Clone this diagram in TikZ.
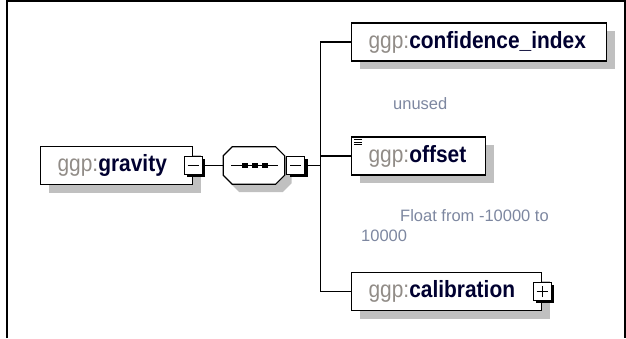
\documentclass[tikz,border=0pt]{standalone}
\usepackage{fontspec}
\setmainfont{Liberation Sans}
\newfontfamily\boxfont[FakeStretch=0.89]{Liberation Sans}
\usetikzlibrary{positioning, shadows, calc}

\definecolor{pfxgray}{RGB}{145,140,135}
\definecolor{namenavy}{RGB}{0,0,48}
\definecolor{annotgray}{RGB}{125,135,160}
\definecolor{shadegray}{RGB}{192,192,192}

\newcommand{\ggpname}[1]{{\color{pfxgray}ggp:}{\bfseries\color{namenavy}#1}}
% octagon round the sequence node, shifted by #1
\newcommand{\seqpath}[1]{%
  ($(seq.north west)+(9,0)+#1$) -- ($(seq.north east)+(-9,0)+#1$) --
  ($(seq.north east)+(0,9)+#1$) -- ($(seq.south east)+(0,-9)+#1$) --
  ($(seq.south east)+(-9,0)+#1$) -- ($(seq.south west)+(9,0)+#1$) --
  ($(seq.south west)+(0,-9)+#1$) -- ($(seq.north west)+(0,9)+#1$) -- cycle}

\begin{document}
\begin{tikzpicture}[
  x=1pt, y=-1pt,
  elem/.style={
    draw, fill=white, line width=1.2pt, anchor=west,
    minimum height=38pt, inner xsep=17pt, inner ysep=0pt,
    align=left, font=\boxfont\fontsize{23.5}{26}\selectfont,
    drop shadow={shadow xshift=8pt, shadow yshift=-8pt, fill=shadegray, opacity=1}
  },
  toggle/.style={
    draw, fill=white, line width=1.1pt, minimum size=18pt, inner sep=0pt,
    drop shadow={shadow xshift=2.8pt, shadow yshift=-2.8pt, fill=black, opacity=1}
  },
  minusbox/.style={toggle,
    path picture={\draw[line width=1.1pt]
      ([xshift=-5.5pt]path picture bounding box.center) --
      ([xshift=5.5pt]path picture bounding box.center);}
  },
  plusbox/.style={toggle,
    path picture={\draw[line width=1.1pt]
      ([xshift=-5.5pt]path picture bounding box.center) --
      ([xshift=5.5pt]path picture bounding box.center)
      ([yshift=-5.5pt]path picture bounding box.center) --
      ([yshift=5.5pt]path picture bounding box.center);}
  },
  seqslot/.style={minimum width=61pt, minimum height=37pt, inner sep=0pt},
  conn/.style={line width=1.3pt},
  annot/.style={anchor=west, inner sep=0pt, align=left, text=annotgray,
    font=\fontsize{16.5}{20}\selectfont},
]
\useasboundingbox (0,0) rectangle (626,338);

% ===== Frame =====
\draw[line width=2.3pt] (6.8,338) -- (6.8,1) -- (625,1) -- (625,338);

% ===== Root element and sequence =====
\node[elem, text width=118pt] (grav) at (40,165.5) {\ggpname{gravity}};
\node[minusbox] (gravtog) at (grav.east) {};

\node[seqslot, right=20.5pt of gravtog] (seq) {};
\fill[shadegray] \seqpath{(7,8)};
\draw[line width=1.2pt, fill=white] \seqpath{(0,0)};
\node[minusbox, right=1.5pt of seq] (seqtog) {};

% inner sequence symbol
\draw[line width=1.2pt] ($(seq.center)+(-22.5,0)$) -- ($(seq.center)+(24.5,0)$);
\foreach \dx in {-8.8,1,10.8}
  \fill ($(seq.center)+(\dx,0)$) ++(-2.8,-2.3) rectangle ++(5.6,4.6);

% ===== Children =====
\node[elem, text width=221pt] (conf) at (351,42) {\ggpname{confidence\_index}};
\node[elem, text width=100pt] (offset) at (351,156) {\ggpname{offset}};
\node[elem, text width=156pt] (calib) at (351,291.5) {\ggpname{calibration}};
\node[plusbox] (calibtog) at (calib.east) {};

% simple content mark
\foreach \dy in {3.5,5.8,8.1}
  \draw[line width=0.9pt] ($(offset.north west)+(3,\dy)$) -- ++(8,0);

% ===== Annotations =====
\node[annot] (unusednote) at (393,104) {unused};
\node[annot, anchor=north west] (floatnote) at (361,209)
  {\hspace*{39pt}Float from -10000 to\\10000};

% ===== Connectors =====
\path (seqtog.east) ++(15,0) coordinate (bus);
\draw[conn] (gravtog) -- (seq);
\draw[conn] (seqtog) -- (bus);
\draw[conn] (conf.west) -| (bus) |- (calib.west);
\draw[conn] (offset.west) -- (offset.west -| bus);

\end{tikzpicture}
\end{document}
